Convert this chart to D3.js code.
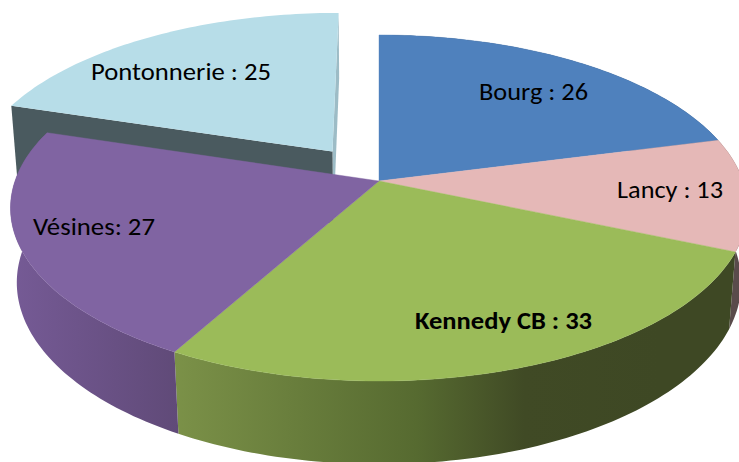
<!DOCTYPE html>
<html><head><meta charset="utf-8">
<script src="https://cdn.jsdelivr.net/npm/d3@7/dist/d3.min.js"></script>
<style>html,body{margin:0;padding:0;background:#fff}svg{display:block}text{font-family:Carlito,Lato,"Open Sans",sans-serif;fill:#000}</style>
</head><body><svg id="c" width="739" height="462"></svg>
<script>
const categories = ["Bourg","Lancy","Kennedy CB","Vésines","Pontonnerie"];
const values = [26,13,33,27,25];
const labelText = ["Bourg : 26","Lancy : 13","Kennedy CB : 33","Vésines: 27","Pontonnerie : 25"];
const topColors = ["#4f81bd","#e5b8b7","#9bbb59","#8064a2","#b7dde8"];
const explodeBy = [0,0,0,0,0.222];
const labelBold = [false,false,true,false,false];
const labelPos = [[479,100],[617,198],[415,329],[33,235],[91,80]];
const labelWidth = [109,106,177,122,180];

const svg = d3.select("#c");
const defs = svg.append("defs");
function grad(id, stops, x1, x2){
  const g = defs.append("linearGradient").attr("id",id).attr("gradientUnits","userSpaceOnUse")
    .attr("x1",x1).attr("x2",x2).attr("y1",0).attr("y2",0);
  stops.forEach(s=>g.append("stop").attr("offset",s[0]).attr("stop-color",s[1]));
}
grad("gGreen",[[0,"#7b9148"],[0.5,"#566a30"],[0.72,"#404a25"],[1,"#3e4824"]],175,660);
grad("gPurple",[[0,"#755a95"],[1,"#604a78"]],15,178);

// perspective projection of unit-disc coordinates (u right, v far, z 0 top .. 1 bottom)
const X0=379,Y0=181,A=364,B=168.8,K=0.156,M=0.017,C=75;
function proj(u,v,z){
  const w=1+K*v+M*z;
  return [X0+A*u/w, Y0+(-B*v+C*z)/w];
}
const pie = d3.pie().sort(null).value(d=>d.value);
const arcs = pie(categories.map((c,i)=>({value:values[i],i})));
const line = d3.line();

function pts(a0,a1,ox,oy,z){
  const n=Math.max(2,Math.ceil((a1-a0)/0.02)), out=[];
  d3.range(n+1).forEach(k=>{
    const a=a0+(a1-a0)*k/n;
    out.push(proj(Math.sin(a)+ox,Math.cos(a)+oy,z));
  });
  return out;
}
function offs(d){
  const m=(d.startAngle+d.endAngle)/2, e=explodeBy[d.data.i];
  return [Math.sin(m)*e,Math.cos(m)*e];
}
const exploded = arcs.filter(d=>explodeBy[d.data.i]>0);
const body = arcs.filter(d=>explodeBy[d.data.i]===0);

// exploded slice: radial faces then top
exploded.forEach(d=>{
  const [ox,oy]=offs(d);
  const cT=proj(ox,oy,0), cB=proj(ox,oy,1);
  const sT=proj(Math.sin(d.startAngle)+ox,Math.cos(d.startAngle)+oy,0), sB=proj(Math.sin(d.startAngle)+ox,Math.cos(d.startAngle)+oy,1);
  const eT=proj(Math.sin(d.endAngle)+ox,Math.cos(d.endAngle)+oy,0), eB=proj(Math.sin(d.endAngle)+ox,Math.cos(d.endAngle)+oy,1);
  svg.append("path").attr("d",line([eT,cT,cB,eB])+"Z").attr("fill","#9dbcc6");
  svg.append("path").attr("d",line([sT,cT,cB,sB])+"Z").attr("fill","#4a5a5f");
  svg.append("path").attr("d",line([cT,...pts(d.startAngle,d.endAngle,ox,oy,0)])+"Z").attr("fill",topColors[d.data.i]);
});

// body walls
const wallFill = {1:"#5a4b4b",2:"url(#gGreen)",3:"url(#gPurple)",0:"#2d4a6e"};
body.forEach(d=>{
  const t=pts(d.startAngle,d.endAngle,0,0,0), b=pts(d.startAngle,d.endAngle,0,0,1).reverse();
  svg.append("path").attr("d",line([...t,...b])+"Z").attr("fill",wallFill[d.data.i]);
});
// body tops
body.forEach(d=>{
  svg.append("path").attr("d",line([proj(0,0,0),...pts(d.startAngle,d.endAngle,0,0,0)])+"Z")
    .attr("fill",topColors[d.data.i]).attr("stroke",topColors[d.data.i]).attr("stroke-width",0.4);
});

// labels
arcs.forEach(d=>{
  const i=d.data.i;
  svg.append("text").attr("x",labelPos[i][0]).attr("y",labelPos[i][1])
    .attr("font-size",25).attr("font-weight",labelBold[i]?"700":"400")
    .attr("textLength",labelWidth[i]).attr("lengthAdjust","spacingAndGlyphs")
    .text(labelText[i]);
});
</script></body></html>
